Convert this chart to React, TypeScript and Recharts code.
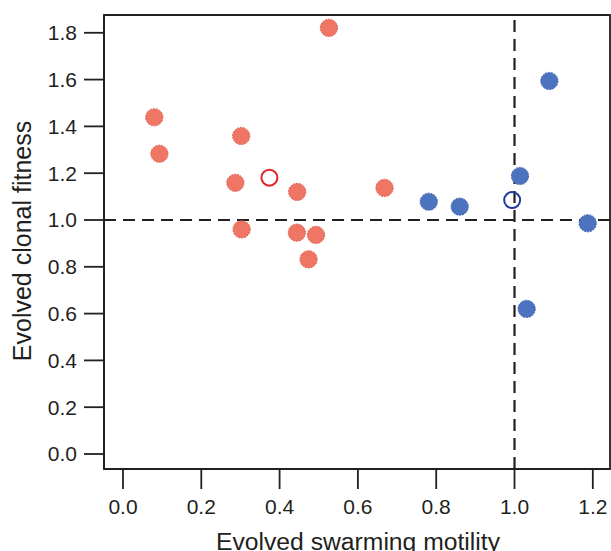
import React from 'react';
import {
  ScatterChart, Scatter, XAxis, YAxis, ReferenceLine, ReferenceArea
} from 'recharts';

// evolved lineages: swarming motility (x) vs clonal fitness (y)
const redX = [0.080, 0.093, 0.302, 0.287, 0.303, 0.445, 0.444, 0.493, 0.474, 0.526, 0.668];
const redY = [1.439, 1.283, 1.359, 1.159, 0.960, 1.120, 0.946, 0.936, 0.832, 1.821, 1.137];
const blueX = [0.781, 0.860, 1.014, 1.089, 1.187, 1.031];
const blueY = [1.078, 1.057, 1.188, 1.594, 0.986, 0.620];
// ancestors (open markers)
const redOpenX = [0.374];
const redOpenY = [1.181];
const blueOpenX = [0.994];
const blueOpenY = [1.085];

const xTicks = [0, 0.2, 0.4, 0.6, 0.8, 1.0, 1.2];
const yTicks = [0, 0.2, 0.4, 0.6, 0.8, 1.0, 1.2, 1.4, 1.6, 1.8];

const X_DOMAIN: [number, number] = [-0.0485, 1.2439];
const Y_DOMAIN: [number, number] = [-0.0641, 1.876];

const INK = '#231f20';
const FONT = '"Liberation Sans", Arial, sans-serif';

const toPoints = (xs: number[], ys: number[]) => xs.map((x, i) => ({ x, y: ys[i] }));

const filled = (fill: string, stroke: string) => (p: any) => (
  <circle cx={p.cx} cy={p.cy} r={8.6} fill={fill} stroke={stroke} strokeWidth={1} strokeDasharray="2 1" />
);
const hollow = (stroke: string) => (p: any) => (
  <circle cx={p.cx} cy={p.cy} r={8} fill="none" stroke={stroke} strokeWidth={2} />
);

const tickStyle = { fontSize: 21, fill: INK, fontFamily: FONT };

const App: React.FC = () => {
  return (
    <div style={{ position: 'absolute', left: 0, top: 0, background: '#fff' }}>
      <ScatterChart width={611} height={551} margin={{ top: 15, right: 1, left: 0, bottom: 0 }}>
        <ReferenceArea
          x1={X_DOMAIN[0]} x2={X_DOMAIN[1]} y1={Y_DOMAIN[0]} y2={Y_DOMAIN[1]}
          fill="none" stroke={INK} strokeWidth={1.8} fillOpacity={0}
        />
        <XAxis
          type="number" dataKey="x" domain={X_DOMAIN} ticks={xTicks} allowDataOverflow
          height={82} tickSize={20} tickMargin={10}
          tickFormatter={(v: number) => v.toFixed(1)}
          tick={tickStyle}
          axisLine={{ stroke: INK, strokeWidth: 1.8 }}
          tickLine={{ stroke: INK, strokeWidth: 1.8 }}
          label={{
            content: () => (
              <text x={358} y={550} textAnchor="middle" fontSize={24.7} fill={INK} fontFamily={FONT}>
                Evolved swarming motility
              </text>
            )
          }}
        />
        <YAxis
          type="number" dataKey="y" domain={Y_DOMAIN} ticks={yTicks} allowDataOverflow
          width={104} tickSize={20} tickMargin={7}
          tickFormatter={(v: number) => v.toFixed(1)}
          tick={tickStyle}
          axisLine={{ stroke: INK, strokeWidth: 1.8 }}
          tickLine={{ stroke: INK, strokeWidth: 1.8 }}
          label={{
            content: () => (
              <text x={31} y={241} transform="rotate(-90 31 241)" textAnchor="middle" fontSize={25} fill={INK} fontFamily={FONT}>
                Evolved clonal fitness
              </text>
            )
          }}
        />
        <Scatter data={toPoints(redX, redY)} shape={filled('#ef7565', '#e05a4a')} isAnimationActive={false} />
        <Scatter data={toPoints(blueX, blueY)} shape={filled('#4b73bf', '#3d62ae')} isAnimationActive={false} />
        <Scatter data={toPoints(redOpenX, redOpenY)} shape={hollow('#e3242b')} isAnimationActive={false} />
        <Scatter data={toPoints(blueOpenX, blueOpenY)} shape={hollow('#1e3c96')} isAnimationActive={false} />
        <ReferenceLine y={1} stroke={INK} strokeWidth={2.2} strokeDasharray="12 7" />
        <ReferenceLine x={1} stroke={INK} strokeWidth={2.2} strokeDasharray="12 7" />
      </ScatterChart>
    </div>
  );
};

export default App;
